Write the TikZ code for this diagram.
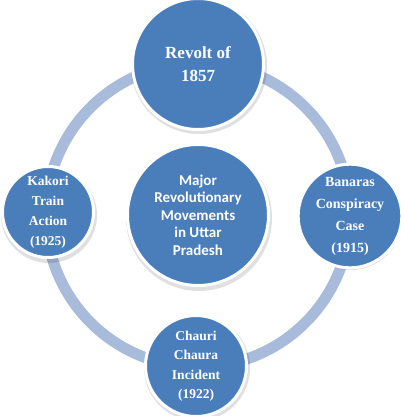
\documentclass[tikz,border=0pt]{standalone}
\usepackage{fontspec}
\setmainfont{Liberation Serif}
\newfontfamily\calibfont{Carlito}
\definecolor{circblue}{HTML}{4A7EBB}
\definecolor{ringblue}{HTML}{A9BBDA}
\begin{document}
\begin{tikzpicture}[x=1pt,y=-1pt,
  bub/.style={circle, fill=circblue, draw=white, line width=3pt, text=white,
    align=center, inner sep=0pt, font=\bfseries},
  shadowc/.style={fill=black, opacity=0.12},
  ringline/.style={draw=ringblue, line width=11pt}]
\useasboundingbox (0,0) rectangle (400,416);
\fill[white] (0,0) rectangle (400,416);
\coordinate (c) at (198,215);
\draw[ringline] (c) circle (152);
% shadows
\fill[shadowc] (199,66) circle (68);
\fill[shadowc] (49,215) circle (48);
\fill[shadowc] (351,219) circle (51);
\fill[shadowc] (197,368) circle (53);
\fill[shadowc] (199,218) circle (73);
\node[bub, minimum size=131pt, font=\bfseries\fontsize{17}{23}\selectfont] (top) at (198,64) {Revolt of\\1857};
\node[bub, minimum size=91pt, font=\bfseries\fontsize{13.5}{20}\selectfont] (left) at (48,212) {Kakori\\Train\\Action\\(1925)};
\node[bub, minimum size=97pt, font=\bfseries\fontsize{14}{22}\selectfont] (right) at (350,216) {Banaras\\Conspiracy\\Case\\(1915)};
\node[bub, minimum size=101pt, font=\bfseries\fontsize{13.5}{19.5}\selectfont] (bottom) at (196,366) {Chauri\\Chaura\\Incident\\(1922)};
\node[bub, minimum size=141pt, font=\calibfont\bfseries\fontsize{15}{17.5}\selectfont] (mid) at (198,215) {Major\\Revolutionary\\Movements\\in Uttar\\Pradesh};
\end{tikzpicture}
\end{document}
